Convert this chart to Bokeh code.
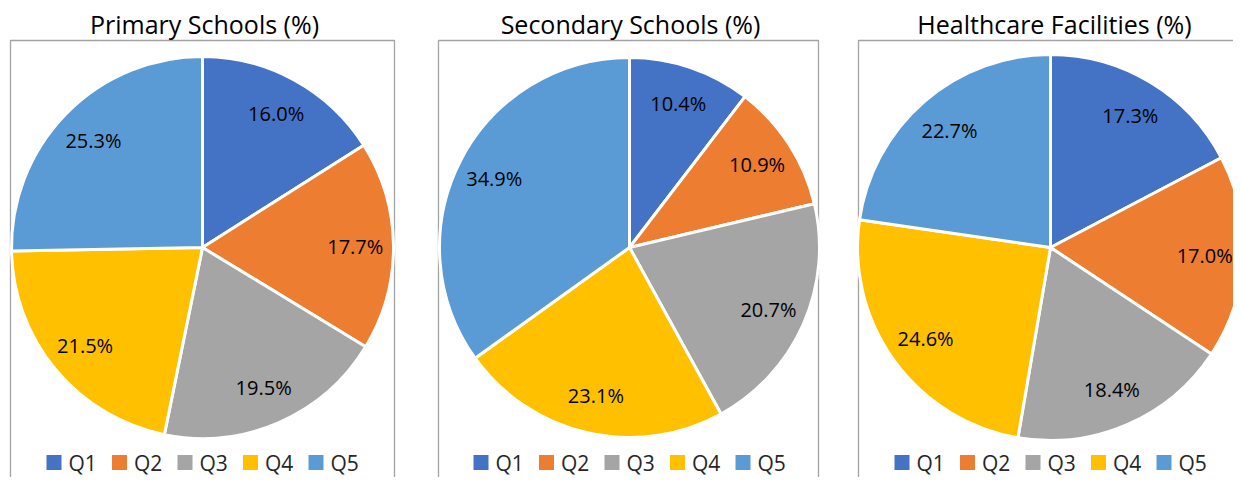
import math
from bokeh.plotting import figure
from bokeh.models import ColumnDataSource, Range1d
from bokeh.core.properties import value
from bokeh.embed import file_html
from bokeh.resources import INLINE

# ---- data ----
categories = ["Q1", "Q2", "Q3", "Q4", "Q5"]
titles = ["Primary Schools (%)", "Secondary Schools (%)", "Healthcare Facilities (%)"]
primary = [16.0, 17.7, 19.5, 21.5, 25.3]
secondary = [10.4, 10.9, 20.7, 23.1, 34.9]
healthcare = [17.3, 17.0, 18.4, 24.6, 22.7]
colors = ["#4472C4", "#ED7D31", "#A5A5A5", "#FFC000", "#5B9BD5"]

series = [primary, secondary, healthcare]

# ---- layout (pixel-like coordinates, y measured from bottom) ----
W, H = 1233, 477
centers_x = [202, 629, 1050]
center_py = 247
radii = [191, 190, 193]
box_left = [10, 438, 858]
box_right = [394, 818, 1260]
title_x = [204, 630, 1054]
box_top_py = 40
FONT = "Open Sans"

p = figure(width=W, height=H, x_range=Range1d(0, W), y_range=Range1d(0, H),
           output_backend="svg", toolbar_location=None, min_border=0)
p.axis.visible = False
p.grid.visible = False
p.outline_line_color = None
p.background_fill_color = "white"
p.border_fill_color = "white"

def Y(py):
    return H - py

for k, vals in enumerate(series):
    cx = centers_x[k]
    cy = Y(center_py)
    r = radii[k]
    total = sum(vals)
    starts, ends, lx, ly, labels = [], [], [], [], []
    cum = 0.0
    for v in vals:
        a0 = math.pi / 2 - cum / total * 2 * math.pi
        cum += v
        a1 = math.pi / 2 - cum / total * 2 * math.pi
        starts.append(a0)
        ends.append(a1)
        mid = (a0 + a1) / 2
        lx.append(cx + 0.8 * r * math.cos(mid))
        ly.append(cy + 0.8 * r * math.sin(mid))
        labels.append(f"{v:.1f}%")
    src = ColumnDataSource(dict(start=starts, end=ends, color=colors, cat=categories,
                                lx=lx, ly=ly, label=labels))
    # panel frame
    p.quad(left=[box_left[k]], right=[box_right[k]], top=[Y(box_top_py)], bottom=[-10],
           fill_color=None, line_color="#a3a3a3", line_width=1.3)
    p.wedge(x=cx, y=cy, radius=r, start_angle="start", end_angle="end",
            direction="clock", fill_color="color", line_color="white", line_width=3,
            source=src)
    p.text(x="lx", y="ly", text="label", source=src, text_align="center",
           text_baseline="middle", text_font=value(FONT), text_font_size="20px",
           text_color="#000000")
    # title
    p.text(x=[title_x[k]], y=[Y(23)],
           text=[titles[k]], text_align="center", text_baseline="middle",
           text_font=value(FONT), text_font_size="25px", text_color="#000000")
    # legend
    sx = [cx - 156 + i * 65.5 for i in range(len(categories))]
    lsrc = ColumnDataSource(dict(x=[s + 7.5 for s in sx], tx=[s + 22 for s in sx],
                                 color=colors, cat=categories))
    p.rect(x="x", y=Y(462), width=15, height=15, fill_color="color", line_color=None,
           source=lsrc)
    p.text(x="tx", y=Y(462), text="cat", source=lsrc, text_align="left",
           text_baseline="middle", text_font=value(FONT), text_font_size="21px",
           text_color="#262626")

open("out.html", "w").write(file_html(p, INLINE))
